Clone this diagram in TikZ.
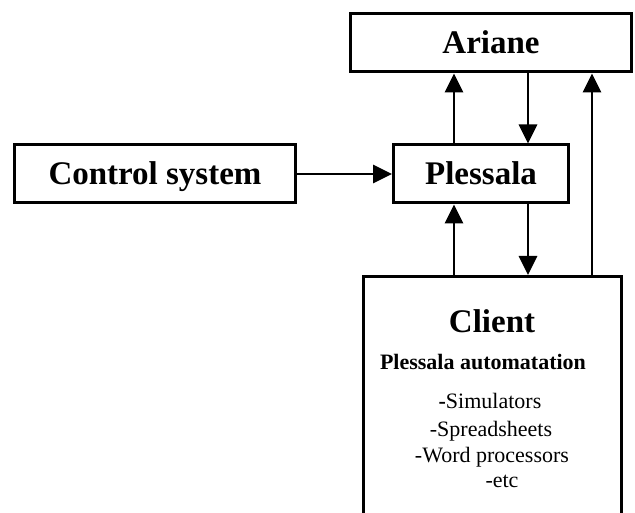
\documentclass[tikz,border=0pt]{standalone}
\usepackage{fontspec}
\setmainfont{Liberation Serif}
\usetikzlibrary{arrows.meta}

\begin{document}
\begin{tikzpicture}[x=1pt,y=-1pt,
    box/.style={draw,line width=3pt,rectangle,minimum width=281pt,minimum height=58pt,
      text height=29pt,text depth=7pt,font=\fontsize{33}{39}\bfseries},
    flow/.style={line width=2.8pt,-{Triangle[length=19pt,width=18pt]}},
    item/.style={anchor=base,inner sep=0pt,font=\fontsize{22}{26}\selectfont}]
    \useasboundingbox (0,0) rectangle (635,513);
    \node[box] (ariane) at (491,43) {Ariane};
    \node[box] (ctrl) at (155,174) {Control system};
    \node[box,minimum width=175pt] (plessala) at (481,174) {Plessala};
    \node[box,minimum width=258pt,minimum height=260pt,anchor=north] (client) at (492.5,275) {};
    \node[item,font=\fontsize{33}{39}\bfseries] (ctitle) at (492,332) {Client};
    \node[item,font=\fontsize{22}{26}\bfseries] (csub) at (483,370) {Plessala automatation};
    \node[item] (sim) at (490,408) {{\bfseries -}Simulators};
    \node[item] (sheet) at (491,436) {-Spreadsheets};
    \node[item] (word) at (492,462) {-Word processors};
    \node[item] (etc) at (502,487) {-etc};
    \draw[flow] (ctrl) -- (plessala);
    \draw[flow] ([xshift=-27pt]plessala.north) -- ([xshift=-27pt]plessala.north |- ariane.south);
    \draw[flow] ([xshift=47pt]plessala.north |- ariane.south) -- ([xshift=47pt]plessala.north);
    \draw[flow] ([xshift=-27pt]plessala.south |- client.north) -- ([xshift=-27pt]plessala.south);
    \draw[flow] ([xshift=47pt]plessala.south) -- ([xshift=47pt]plessala.south |- client.north);
    \draw[flow] ([xshift=101pt]ariane.south |- client.north) -- ([xshift=101pt]ariane.south);
  \end{tikzpicture}
\end{document}
